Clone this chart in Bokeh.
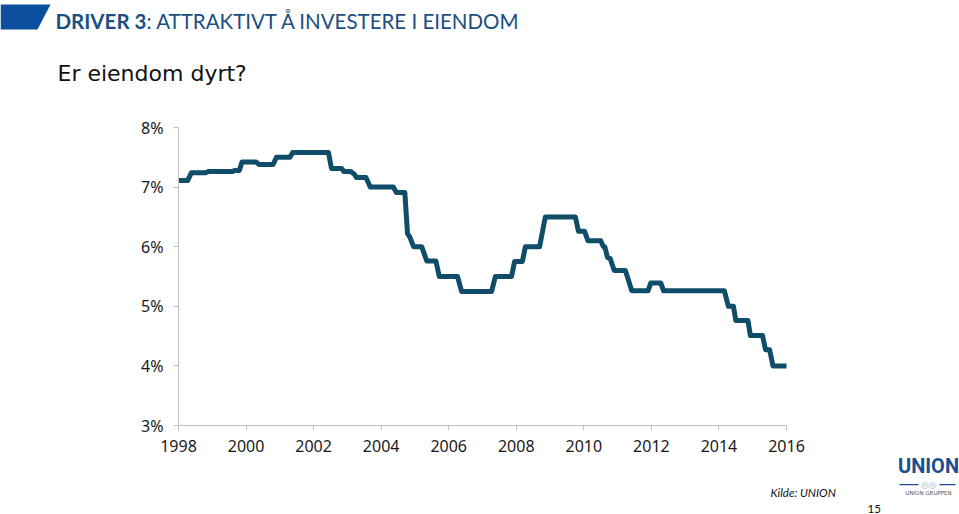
from bokeh.plotting import figure
from bokeh.layouts import column, row
from bokeh.models import Range1d, FixedTicker, Label, PolyAnnotation
from bokeh.embed import file_html
from bokeh.resources import INLINE

# ---- data ----
years = [1998.00, 1998.27, 1998.38, 1998.80, 1998.88, 1999.60, 1999.66, 1999.80,
         1999.88, 2000.30, 2000.38, 2000.80, 2000.90, 2001.30, 2001.38, 2002.44,
         2002.53, 2002.83, 2002.90, 2003.10, 2003.20, 2003.27, 2003.55, 2003.68,
         2004.36, 2004.45, 2004.70, 2004.78, 2004.85, 2004.96, 2005.20, 2005.35,
         2005.62, 2005.72, 2006.26, 2006.38, 2007.27, 2007.38, 2007.86, 2007.95,
         2008.18, 2008.27, 2008.69, 2008.86, 2009.75, 2009.84, 2010.02, 2010.12,
         2010.50, 2010.58, 2010.62, 2010.70, 2010.78, 2010.90, 2011.23, 2011.42,
         2011.90, 2011.98, 2012.28, 2012.36, 2014.16, 2014.28, 2014.43, 2014.50,
         2014.86, 2014.93, 2015.29, 2015.38, 2015.50, 2015.60, 2016.00]
yields = [7.11, 7.11, 7.24, 7.24, 7.26, 7.26, 7.28, 7.28,
          7.42, 7.42, 7.38, 7.38, 7.50, 7.50, 7.58, 7.58,
          7.31, 7.31, 7.26, 7.26, 7.22, 7.16, 7.16, 7.00,
          7.00, 6.91, 6.91, 6.22, 6.16, 6.00, 6.00, 5.76,
          5.76, 5.50, 5.50, 5.25, 5.25, 5.50, 5.50, 5.75,
          5.75, 6.00, 6.00, 6.50, 6.50, 6.26, 6.26, 6.10,
          6.10, 6.00, 6.00, 5.82, 5.80, 5.60, 5.60, 5.26,
          5.26, 5.39, 5.39, 5.26, 5.26, 5.00, 5.00, 4.76,
          4.76, 4.51, 4.51, 4.27, 4.27, 4.00, 4.00]

x_ticks = [1998, 2000, 2002, 2004, 2006, 2008, 2010, 2012, 2014, 2016]
x_tick_labels = ["1998", "2000", "2002", "2004", "2006", "2008", "2010", "2012", "2014", "2016"]
y_ticks = [3, 4, 5, 6, 7, 8]
y_tick_labels = ["3%", "4%", "5%", "6%", "7%", "8%"]

title_bold = "DRIVER 3"
title_rest = ":  ATTRAKTIVT  Å INVESTERE I EIENDOM"
subtitle = "Er eiendom dyrt?"
source = "Kilde: UNION"
page_no = "15"

W = 959
LEFT_W = 890                    # page columns 0..890 (chart + footer), 890..959 logo
HEAD_H = 100                    # page rows 0..100
CHART_TOP, CHART_H = 100, 362   # page rows 100..462
FOOT_TOP, FOOT_H = 462, 52      # page rows 462..514
FL, FT, FR, FB = 178, 127, 786, 425   # chart frame edges in page pixels

head_font = "Lato"


def blank_fig(w, h):
    f = figure(width=w, height=h, output_backend="svg", toolbar_location=None,
               x_axis_location=None, y_axis_location=None,
               x_range=Range1d(0, 1), y_range=Range1d(0, 1),
               min_border=0, min_border_left=0, min_border_right=0,
               min_border_top=0, min_border_bottom=0, frame_align=False)
    f.outline_line_color = None
    f.xgrid.grid_line_color = None
    f.ygrid.grid_line_color = None
    f.background_fill_color = "white"
    f.border_fill_color = "white"
    return f


def add_label(f, left, top, h, px, py, text, **kw):
    # (px, py): page position of the text's vertical middle
    f.add_layout(Label(x=px - left, y=h - (py - top), x_units="screen", y_units="screen",
                       text=text, text_baseline="middle", **kw))


def add_poly(f, left, top, h, pxs, pys, color):
    f.add_layout(PolyAnnotation(xs=[v - left for v in pxs], ys=[h - (v - top) for v in pys],
                                xs_units="screen", ys_units="screen",
                                fill_color=color, fill_alpha=1.0, line_color=None))


# ---- header ----
head = blank_fig(W, HEAD_H)
add_poly(head, 0, 0, HEAD_H, [0, 50, 37, 0], [4, 4, 29, 29], "#0b4f9e")
add_label(head, 0, 0, HEAD_H, 55, 20, title_bold, text_font=head_font,
          text_font_style="bold", text_font_size="20.5px", text_color="#1b4f82")
add_label(head, 0, 0, HEAD_H, 146, 20, title_rest, text_font=head_font,
          text_font_size="20.5px", text_color="#1b4f82")
add_label(head, 0, 0, HEAD_H, 57, 73, subtitle, text_font="DejaVu Sans",
          text_font_size="22px", text_color="#111111")

# ---- chart ----
p = figure(width=LEFT_W, height=CHART_H, output_backend="svg", toolbar_location=None,
           x_range=Range1d(1998, 2016), y_range=Range1d(3, 8),
           min_border_left=FL, min_border_right=LEFT_W - FR,
           min_border_top=FT - CHART_TOP, min_border_bottom=CHART_TOP + CHART_H - FB,
           frame_align=False)
p.outline_line_color = None
p.xgrid.grid_line_color = None
p.ygrid.grid_line_color = None
p.background_fill_color = "white"
p.border_fill_color = "white"

p.line(years, yields, line_color="#0f4d68", line_width=5,
       line_join="round", line_cap="round")

for ax in (p.xaxis[0], p.yaxis[0]):
    ax.axis_line_color = "#bfbfbf"
    ax.major_tick_line_color = "#bfbfbf"
    ax.minor_tick_line_color = None
    ax.major_tick_in = 0
    ax.major_tick_out = 5
    ax.major_label_text_font = "Noto Sans"
    ax.major_label_text_font_size = "16px"
    ax.major_label_text_color = "#1a1a1a"

p.xaxis.ticker = FixedTicker(ticks=x_ticks)
p.xaxis.major_label_overrides = dict(zip(x_ticks, x_tick_labels))
p.xaxis.major_label_standoff = 9
p.yaxis.ticker = FixedTicker(ticks=y_ticks)
p.yaxis.major_label_overrides = dict(zip(y_ticks, y_tick_labels))
p.yaxis.major_label_standoff = 10

# ---- footer (below chart) ----
foot = blank_fig(LEFT_W, FOOT_H)
add_label(foot, 0, FOOT_TOP, FOOT_H, 770, 492, source, text_font="Lato",
          text_font_style="italic", text_font_size="11.5px", text_color="#111111")
add_label(foot, 0, FOOT_TOP, FOOT_H, 867, 508, page_no, text_font="Lato",
          text_font_size="11.5px", text_color="#111111")

# ---- logo column (right) ----
SIDE_TOP, SIDE_H = CHART_TOP, CHART_H + FOOT_H
side = blank_fig(W - LEFT_W, SIDE_H)
add_label(side, LEFT_W, SIDE_TOP, SIDE_H, 928, 465, "UNION", text_font="Roboto",
          text_font_style="bold", text_font_size="20px", text_color="#1b4f8f",
          text_align="center")
add_poly(side, LEFT_W, SIDE_TOP, SIDE_H, [899, 918, 918, 899], [483.5, 483.5, 484.8, 484.8], "#1b4f8f")
add_poly(side, LEFT_W, SIDE_TOP, SIDE_H, [939, 955, 955, 939], [483.5, 483.5, 484.8, 484.8], "#1b4f8f")
add_label(side, LEFT_W, SIDE_TOP, SIDE_H, 928, 484, "◎◎", text_font="DejaVu Sans",
          text_font_size="9px", text_color="#b0b8c8", text_align="center")
add_label(side, LEFT_W, SIDE_TOP, SIDE_H, 928, 492, "UNION GRUPPEN", text_font="DejaVu Sans",
          text_font_size="5.5px", text_color="#555555", text_align="center")

layout = column(head, row(column(p, foot, spacing=0), side, spacing=0), spacing=0)
open("out.html", "w").write(file_html(layout, INLINE))
